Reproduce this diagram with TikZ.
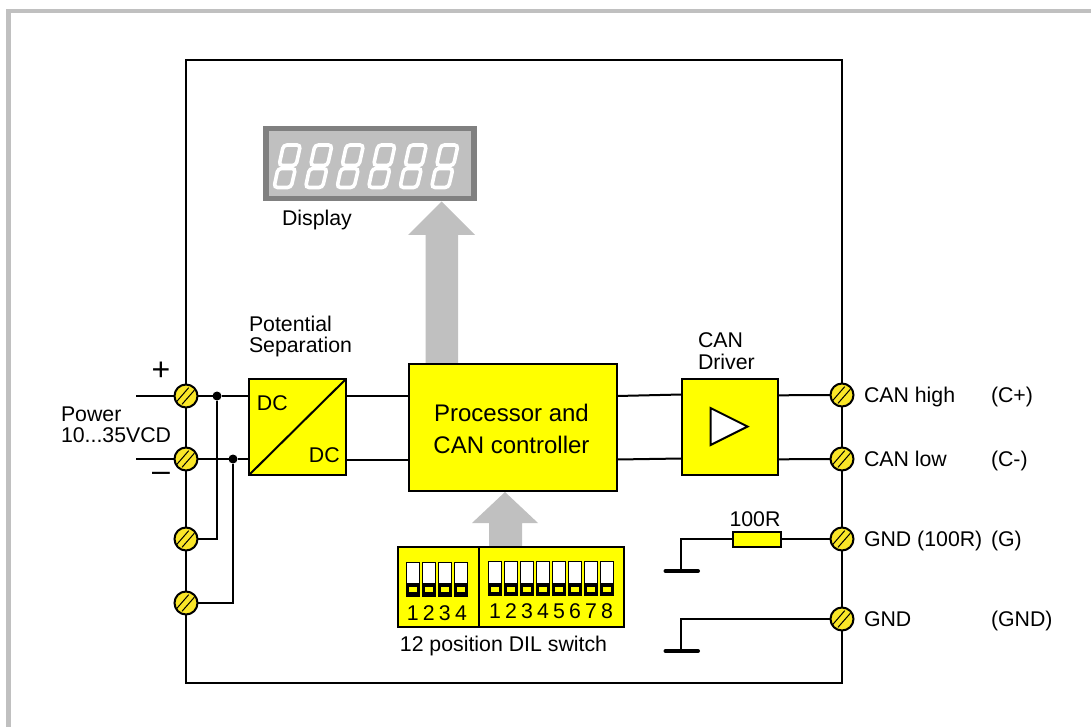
\documentclass[tikz,border=0pt]{standalone}
\usepackage{fontspec}
\setmainfont{Liberation Sans}
\usetikzlibrary{calc}
\definecolor{ylw}{RGB}{255,255,0}
\definecolor{trm}{RGB}{250,230,40}
\definecolor{gry}{RGB}{192,192,192}
\definecolor{dgry}{RGB}{128,128,128}
\newcommand{\fs}[2]{\fontsize{#1}{#2}\selectfont}
\tikzset{
  wire/.style={line width=2pt,black},
  block/.style={draw=black,fill=ylw,line width=2pt,inner sep=0pt,outer sep=0pt,anchor=north west},
  lbl/.style={inner sep=0pt,outer sep=0pt,font=\fs{21.3}{21}},
  lblw/.style={lbl,anchor=base west},
  mlbl/.style={lbl,anchor=west,align=left},
  dotn/.style={circle,fill=black,inner sep=0pt,outer sep=0pt,minimum size=9pt},
  termn/.style={circle,draw=black,fill=trm,line width=2pt,minimum size=23pt,inner sep=0pt,outer sep=0pt},
  gnd/.style={line width=4pt,line cap=round},
  bigarrow/.style={fill=gry,draw=none},
}
\newcommand{\screw}[1]{\draw[line width=1pt] ($(#1)+(-9.7,6)$) -- ($(#1)+(2.7,-8.3)$) ($(#1)+(-4,8.3)$) -- ($(#1)+(8.3,-5.7)$);}
\newcommand{\dil}[3]{% x, y, count
  \foreach \i in {1,...,#3}{
    \pgfmathsetmacro{\xx}{#1+(\i-1)*16}
    \fill[black] (\xx,#2) rectangle ++(13.7,35);
    \fill[white] (\xx+1,#2+1) rectangle ++(11.7,20.5);
    \fill[ylw] (\xx+3,#2+25.5) rectangle ++(8,5);
  }}
\newcommand{\digit}[1]{%
  \begin{scope}[shift={(#1,0)},line width=3.6pt,white,rounded corners=3.5pt]
    \draw (283.5,145) -- (300.5,145) -- (296,165.5) -- (279,165.5) -- cycle;
    \draw (278,168.5) -- (295.5,168.5) -- (291,187.5) -- (274,187.5) -- cycle;
  \end{scope}}
\begin{document}
\begin{tikzpicture}[x=1pt,y=-1pt]
\useasboundingbox (0,0) rectangle (1091,727);
\fill[white] (0,0) rectangle (1091,727);
\fill[gry] (6,9) rectangle (11,727);
\fill[gry] (6,9) rectangle (1091,13);
% housing
\draw[line width=2pt] (186,60) rectangle (842,683);
% display
\draw[fill=gry,draw=dgry,line width=5.5pt] (266,128.5) rectangle (474,198.5);
\foreach \k in {0,...,5}{\digit{\k*31.5}}
\node[lblw] (dsplbl) at (282,225.5) {Display};
% big arrows
\fill[bigarrow] (425.5,364) -- (425.5,235) -- (408,235) -- (441.5,201.5) -- (475,235) -- (458,235) -- (458,364) -- cycle;
\fill[bigarrow] (489,547) -- (489,523) -- (472,523) -- (505,492) -- (538,523) -- (522,523) -- (522,547) -- cycle;
% free ends
\coordinate (in1) at (136,396);
\coordinate (in2) at (136,459);
\coordinate (g1) at (681,539);
\coordinate (g1b) at (681,571);
\coordinate (g2) at (681,619);
\coordinate (g2b) at (681,651);
\coordinate (g1l) at (665.5,571);
\coordinate (g1r) at (698,571);
\coordinate (g2l) at (665.5,651);
\coordinate (g2r) at (698,651);
\coordinate (c1) at (217,539);
\coordinate (c2) at (233,603);
% blocks
\node[block,minimum width=97pt,minimum height=96pt] (dcdc) at (249,379) {};
\node[block,minimum width=208pt,minimum height=127pt] (proc) at (409,364) {};
\node[align=center,font=\fs{24}{32.5},inner sep=0pt] (proclbl) at (511.5,429) {Processor and\\CAN controller};
\node[block,minimum width=96pt,minimum height=96pt] (drv) at (681.5,379) {};
\node[block,minimum width=48pt,minimum height=15pt] (res) at (732.5,531.5) {};
\node[termn] (t1) at (186,396) {};
\node[termn] (t2) at (186,459) {};
\node[termn] (t3) at (186,539) {};
\node[termn] (t4) at (186,603) {};
\node[termn] (t5) at (842,395) {};
\node[termn] (t6) at (842,459) {};
\node[termn] (t7) at (842,539) {};
\node[termn] (t8) at (842,619) {};
\foreach \t in {t1,t2,t3,t4,t5,t6,t7,t8}{\screw{\t}}
\node[dotn] (d1) at (217,396) {};
\node[dotn] (d2) at (233,459) {};
\draw[wire] (in1) -- (t1) (t1) -- (d1) -- (d1 -| dcdc.west);
\draw[wire] (in2) -- (t2) (t2) -- (d2) -- (d2 -| dcdc.west);
\draw[wire] (d1) -- (c1) -- (t3);
\draw[wire] (d2) -- (c2) -- (t4);
\draw[wire] (346,396) -- (409,396);
\draw[wire] (346,460) -- (409,460);
\draw[wire] (617,396) -- (681.5,394.5);
\draw[wire] (617,459.5) -- (681.5,458.5);
\draw[wire] (777.5,395.3) -- (t5);
\draw[wire] (777.5,459.3) -- (t6);
\draw[wire] (res.east) -- (t7);
\draw[wire] (res.west) -- (g1) -- (g1b);
\draw[wire] (t8) -- (g2) -- (g2b);
\draw[gnd] (g1l) -- (g1r);
\draw[gnd] (g2l) -- (g2r);
% dc/dc diagonal
\draw[line width=2pt] (dcdc.south west) -- (dcdc.north east);
\node[lbl] (dc1) at (272.3,403.5) {DC};
\node[lbl] (dc2) at (324.3,455.5) {DC};
% driver triangle
\draw[fill=white,line width=2pt,line join=miter] (710.5,408) -- (747.5,426.5) -- (710.5,445) -- cycle;
% DIL
\node[block,minimum width=81pt,minimum height=80pt] (sw1) at (397.5,547) {};
\node[block,minimum width=145pt,minimum height=80pt] (sw2) at (478.5,547) {};
\dil{406.3}{561.7}{4}
\dil{488.3}{561}{8}
\foreach \i in {1,...,4}{\node[lbl] (a\i) at ({412.7+(\i-1)*16.1},613) {\i};}
\foreach \i in {1,...,8}{\node[lbl] (b\i) at ({495+(\i-1)*16},611) {\i};}
\node[lbl] (dillbl) at (503.5,646) {12 position DIL switch};
% labels
\node[mlbl,font=\fs{21.3}{21.5}] (pot) at (249,336.5) {Potential\\Separation};
\node[mlbl,font=\fs{21.3}{21.5}] (can) at (698,351) {CAN\\Driver};
\node[lbl] (r100) at (755,519) {100R};
\node[lbl,font=\fs{32}{32}] (plus) at (161,371.5) {+};
\node[lbl,font=\fs{32}{32}] (minus) at (161,477) {–};
\node[mlbl] (pwr) at (61,424.5) {Power\\10...35VCD};
\node[lblw] (l1) at (864,402.5) {CAN high};
\node[lblw] (l2) at (864,466.5) {CAN low};
\node[lblw] (l3) at (864,546.5) {GND (100R)};
\node[lblw] (l4) at (864,626.5) {GND};
\node[lblw] (r1) at (991,402.5) {(C+)};
\node[lblw] (r2) at (991,466.5) {(C-)};
\node[lblw] (r3) at (991,546.5) {(G)};
\node[lblw] (r4) at (991,626.5) {(GND)};
\end{tikzpicture}
\end{document}
